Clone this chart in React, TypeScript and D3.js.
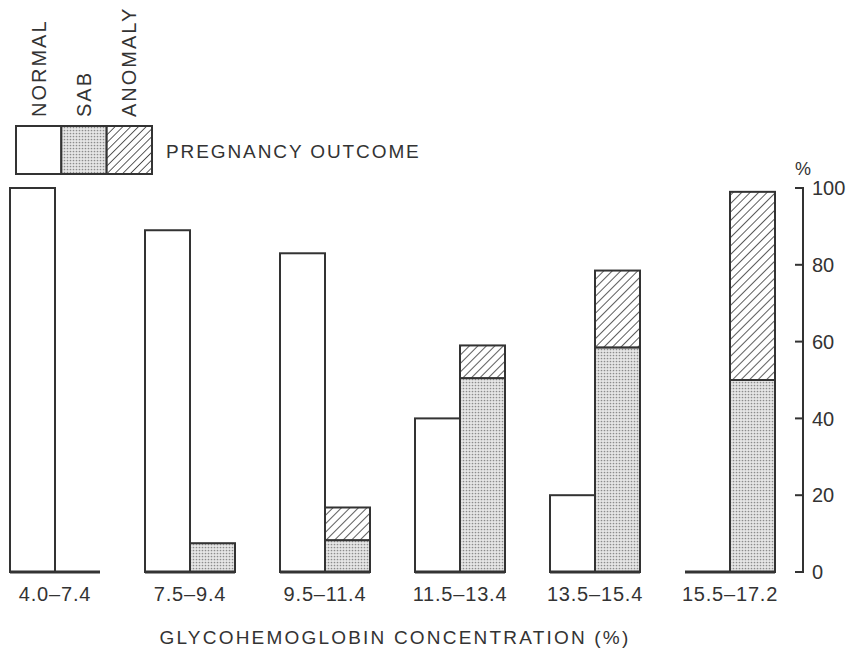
import React from "react";
import * as d3 from "d3";

const categories = ["4.0–7.4", "7.5–9.4", "9.5–11.4", "11.5–13.4", "13.5–15.4", "15.5–17.2"];
const normalPct = [100, 89, 83, 40, 20, 0];
const sabPct = [0, 7.5, 8.3, 50.5, 58.5, 50];
const anomalyPct = [0, 0, 8.5, 8.5, 20, 49];
const yTicks = [0, 20, 40, 60, 80, 100];
const legendKeys = ["NORMAL", "SAB", "ANOMALY"];
const legendTitle = "PREGNANCY OUTCOME";
const xTitle = "GLYCOHEMOGLOBIN CONCENTRATION (%)";

const W = 850;
const H = 654;
const INK = "#333";
const FONT = "'Liberation Sans', Arial, Helvetica, sans-serif";

export default function App() {
  const rows = categories.map((c, i) => ({
    cat: c,
    normal: normalPct[i],
    sab: sabPct[i],
    anomaly: anomalyPct[i],
  }));

  const y = d3.scaleLinear().domain([0, 100]).range([572, 188]);
  const x0 = d3.scaleBand<string>().domain(categories).range([10, 775]).paddingInner(1 / 3).paddingOuter(0);
  const x1 = d3.scaleBand<string>().domain(["normal", "sab"]).range([0, x0.bandwidth()]).padding(0);
  const stacked = d3.stack<any>().keys(["sab", "anomaly"])(rows);
  const fills: Record<string, string> = { sab: "url(#dots)", anomaly: "url(#hatch)" };

  const lx = d3.scaleBand<string>().domain(legendKeys).range([16, 152]);
  const legendFills = ["#fff", "url(#dots)", "url(#hatchL)"];
  const axisX = 803;

  return (
    <svg
      width={W}
      height={H}
      style={{ position: "absolute", left: 0, top: 0, background: "#fff" }}
      fontFamily={FONT}
    >
      <defs>
        <pattern id="dots" width="3" height="3" patternUnits="userSpaceOnUse">
          <rect width="3" height="3" fill="#e6e6e6" />
          <circle cx="1.5" cy="1.5" r="0.85" fill="#8c8c8c" />
        </pattern>
        <pattern id="hatch" width="6" height="6" patternUnits="userSpaceOnUse" patternTransform="rotate(45)">
          <rect width="6" height="6" fill="#fff" />
          <line x1="0" y1="0" x2="0" y2="6" stroke={INK} strokeWidth="1.6" />
        </pattern>
        <pattern id="hatchL" width="5.5" height="5.5" patternUnits="userSpaceOnUse" patternTransform="rotate(45)">
          <rect width="5.5" height="5.5" fill="#fff" />
          <line x1="0" y1="0" x2="0" y2="5.5" stroke={INK} strokeWidth="1.6" />
        </pattern>
      </defs>

      {/* Legend */}
      {legendKeys.map((k, i) => (
        <rect
          key={"lg" + k}
          x={lx(k)!}
          y={126}
          width={lx.bandwidth()}
          height={48}
          fill={legendFills[i]}
          stroke={INK}
          strokeWidth={2}
        />
      ))}
      {legendKeys.map((k) => (
        <text
          key={"lt" + k}
          transform={`translate(${lx(k)! + lx.bandwidth() / 2 + 7},117) rotate(-90)`}
          fontSize={20}
          letterSpacing={2}
          fill={INK}
        >
          {k}
        </text>
      ))}
      <text x={166} y={158} fontSize={19} letterSpacing={1.9} fill={INK}>
        {legendTitle}
      </text>

      {/* Bars */}
      {rows.map((r) =>
        r.normal > 0 ? (
          <rect
            key={"n" + r.cat}
            x={x0(r.cat)! + x1("normal")!}
            y={y(r.normal)}
            width={x1.bandwidth()}
            height={y(0) - y(r.normal)}
            fill="#fff"
            stroke={INK}
            strokeWidth={2}
          />
        ) : null
      )}
      {stacked.map((layer) =>
        layer.map((d, i) =>
          d[1] - d[0] > 0 ? (
            <rect
              key={layer.key + i}
              x={x0(categories[i])! + x1("sab")!}
              y={y(d[1])}
              width={x1.bandwidth()}
              height={y(d[0]) - y(d[1])}
              fill={fills[layer.key]}
              stroke={INK}
              strokeWidth={2}
            />
          ) : null
        )
      )}
      {categories.map((c) => (
        <line
          key={"base" + c}
          x1={x0(c)!}
          x2={x0(c)! + x0.bandwidth()}
          y1={y(0)}
          y2={y(0)}
          stroke={INK}
          strokeWidth={3}
        />
      ))}

      {/* Category labels */}
      {categories.map((c) => (
        <text
          key={"cl" + c}
          x={x0(c)! + x0.bandwidth() / 2}
          y={601}
          textAnchor="middle"
          fontSize={20}
          letterSpacing={0.8}
          fill={INK}
        >
          {c}
        </text>
      ))}
      <text x={395} y={644} textAnchor="middle" fontSize={19} letterSpacing={2.2} fill={INK}>
        {xTitle}
      </text>

      {/* Right axis */}
      <line x1={axisX} x2={axisX} y1={y(0)} y2={y(100)} stroke={INK} strokeWidth={2} />
      {yTicks.map((t) => (
        <g key={"yt" + t}>
          <line x1={axisX - 8} x2={axisX + 1} y1={y(t)} y2={y(t)} stroke={INK} strokeWidth={2} />
          <text x={axisX + 9} y={y(t)} dy="0.36em" fontSize={20} fill={INK}>
            {t}
          </text>
        </g>
      ))}
      <text x={axisX} y={175} textAnchor="middle" fontSize={18} fill={INK}>
        %
      </text>
    </svg>
  );
}
